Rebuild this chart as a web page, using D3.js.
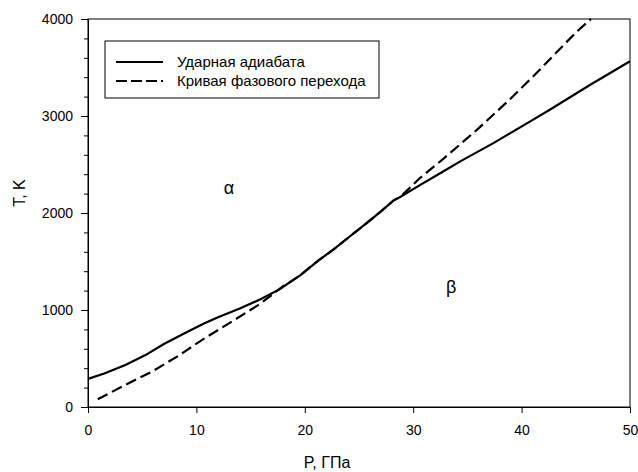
<!DOCTYPE html>
<html><head><meta charset="utf-8">
<script src="https://cdn.jsdelivr.net/npm/d3@7"></script>
<style>body{margin:0;background:#fff}svg{display:block}text{font-family:"Liberation Sans",Arial,sans-serif}</style>
</head><body>
<svg id="c" width="638" height="472"></svg>
<script>
// Shock Hugoniot (solid)
const hugP = [0, 1.5, 3.5, 5.3, 7, 9, 10.7, 12, 14, 16, 17.7, 18.6, 19.6, 21.3, 22.6, 24, 25.7, 27, 28.2, 28.8, 30.5, 32.8, 34.3, 37.4, 40.8, 42.6, 46.3, 50];
const hugT = [290, 345, 435, 535, 650, 765, 860, 925, 1015, 1115, 1215, 1285, 1360, 1515, 1620, 1745, 1895, 2015, 2130, 2165, 2280, 2430, 2530, 2720, 2945, 3065, 3320, 3565];
// Phase transition curve (dashed)
const phP = [0.9, 3.4, 5.9, 8.3, 10.5, 13.4, 15.9, 18, 18.6, 19.6, 21.3, 22.6, 24, 25.7, 27, 28.2, 28.8, 30.6, 32.8, 35.9, 38.9, 41, 43, 45, 46.4];
const phT = [80, 225, 365, 525, 690, 890, 1065, 1245, 1285, 1360, 1515, 1620, 1745, 1895, 2015, 2130, 2165, 2358, 2560, 2860, 3170, 3400, 3630, 3860, 4000];
const xTicks = [0, 10, 20, 30, 40, 50];
const yTicks = [0, 1000, 2000, 3000, 4000];
const yMinor = [200, 400, 600, 800, 1200, 1400, 1600, 1800, 2200, 2400, 2600, 2800, 3200, 3400, 3600, 3800];
const legendLabels = ["Ударная адиабата", "Кривая фазового перехода"];
const regionLabels = [{t: "α", P: 13, T: 2200}, {t: "β", P: 33.5, T: 1175}];

const svg = d3.select("#c");
const L = 88, R = 630, T0 = 19, B = 407;
const x = d3.scaleLinear().domain([0, 50]).range([L, R]);
const y = d3.scaleLinear().domain([0, 4000]).range([B, T0]);

// frame
svg.append("rect").attr("x", L).attr("y", T0).attr("width", R - L).attr("height", B - T0)
  .attr("fill", "none").attr("stroke", "#000").attr("stroke-width", 1);

const xa = svg.append("g").attr("transform", `translate(0,${B})`)
  .call(d3.axisBottom(x).tickValues(xTicks).tickSize(6).tickPadding(12).tickFormat(d3.format("d")));
const ya = svg.append("g").attr("transform", `translate(${L},0)`)
  .call(d3.axisLeft(y).tickValues(yTicks).tickSize(7).tickPadding(8).tickFormat(d3.format("d")));
const ym = svg.append("g").attr("transform", `translate(${L},0)`)
  .call(d3.axisLeft(y).tickValues(yMinor).tickSize(4).tickFormat(""));
ym.select(".domain").remove();
[xa, ya, ym].forEach(g => {
  g.selectAll("text").attr("font-size", 14).attr("font-family", "Liberation Sans, Arial, sans-serif").attr("fill", "#000");
  g.selectAll("line,path").attr("stroke", "#000");
});

svg.append("text").attr("x", (L + R) / 2 - 32).attr("y", 468).attr("text-anchor", "middle")
  .attr("font-size", 16).text("P, ГПа");
svg.append("text").attr("transform", "translate(25,193) rotate(-90)").attr("text-anchor", "middle")
  .attr("font-size", 16).text("T, K");

const line = d3.line().x(d => x(d[0])).y(d => y(d[1]));
const hug = hugP.map((p, i) => [p, hugT[i]]);
const ph = phP.map((p, i) => [p, phT[i]]);

svg.append("path").datum(ph).attr("d", line).attr("fill", "none").attr("stroke", "#000")
  .attr("stroke-width", 2.2).attr("stroke-dasharray", "11,5");
svg.append("path").datum(hug).attr("d", line).attr("fill", "none").attr("stroke", "#000")
  .attr("stroke-width", 2.2);

// region labels
svg.selectAll(".reg").data(regionLabels).enter().append("text")
  .attr("x", d => x(d.P)).attr("y", d => y(d.T)).attr("text-anchor", "middle")
  .attr("font-family", "Liberation Serif, DejaVu Serif, serif").attr("font-size", 18).text(d => d.t);

// legend
const lg = svg.append("g");
lg.append("rect").attr("x", 105).attr("y", 41).attr("width", 274).attr("height", 57)
  .attr("fill", "#fff").attr("stroke", "#000").attr("stroke-width", 1);
legendLabels.forEach((t, i) => {
  const yy = 62 + i * 19;
  lg.append("line").attr("x1", 116).attr("x2", 163).attr("y1", yy).attr("y2", yy)
    .attr("stroke", "#000").attr("stroke-width", 2.2).attr("stroke-dasharray", i ? "11,4" : null);
  lg.append("text").attr("x", 177).attr("y", yy + 5).attr("font-size", 15).text(t);
});
</script>
</body></html>
